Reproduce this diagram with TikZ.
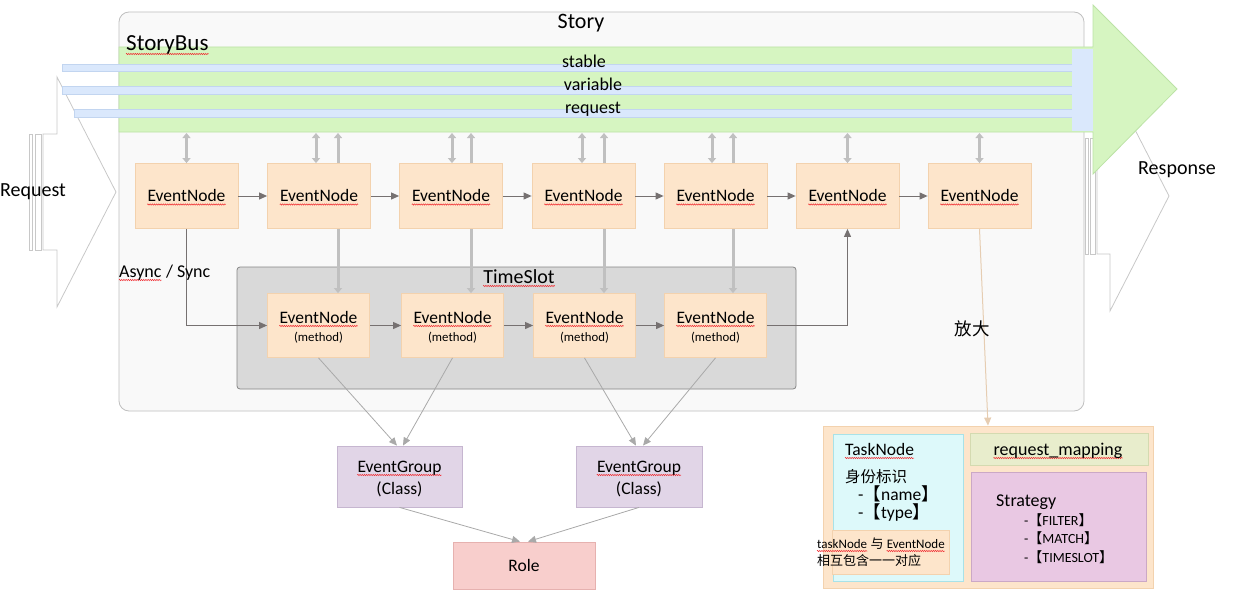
\documentclass[tikz,border=0pt]{standalone}
\usepackage{fontspec}
\setmainfont{Carlito}
\newfontfamily\cjk{Noto Sans CJK SC}
\usetikzlibrary{arrows.meta,decorations.pathmorphing}
\newcommand\fsz[2]{\fontsize{#1}{#2}\selectfont}
\definecolor{evf}{HTML}{FDE5CB}
\definecolor{evb}{HTML}{F3D2AE}
\definecolor{storyf}{HTML}{F9F9F9}
\definecolor{storyb}{HTML}{BFBFBF}
\definecolor{tsf}{HTML}{D9D9D9}
\definecolor{tsb}{HTML}{858585}
\definecolor{grf}{HTML}{D6F5C1}
\definecolor{grb}{HTML}{BCE2A6}
\definecolor{blf}{HTML}{DAE8FC}
\definecolor{blb}{HTML}{C2D5F0}
\definecolor{egf}{HTML}{E1D5E7}
\definecolor{egb}{HTML}{C6B6D0}
\definecolor{rof}{HTML}{F8CECC}
\definecolor{rob}{HTML}{E6B1AF}
\definecolor{tnf}{HTML}{DDF9FA}
\definecolor{tnb}{HTML}{A8E2E8}
\definecolor{rmf}{HTML}{E8EDCC}
\definecolor{rmb}{HTML}{D4DAB0}
\definecolor{stf}{HTML}{E9C8E3}
\definecolor{stb}{HTML}{CBA8C6}
\definecolor{dark}{HTML}{767171}
\definecolor{busln}{HTML}{C0C0C0}
\definecolor{gln}{HTML}{A9A9A9}
\definecolor{zln}{HTML}{E6CDB2}
\definecolor{outln}{HTML}{C8C8C8}
\definecolor{spellred}{HTML}{F0282D}
\begin{document}
\begin{tikzpicture}[x=1pt,y=-1pt,
  outl/.style={draw=outln,fill=white,line width=0.8},
  storybox/.style={draw=storyb,fill=storyf,line width=0.8,rounded corners=10,minimum width=965,minimum height=399,inner sep=0},
  tsbox/.style={draw=tsb,fill=tsf,line width=0.8,rounded corners=3,minimum width=559,minimum height=122,inner sep=0},
  ev/.style={draw=evb,fill=evf,line width=0.8,minimum width=103,minimum height=65,inner sep=0},
  tsn/.style={draw=evb,fill=evf,line width=0.8,minimum width=102,minimum height=64,inner sep=0},
  eg/.style={draw=egb,fill=egf,line width=0.8,minimum width=125,minimum height=61,inner sep=0},
  rolebox/.style={draw=rob,fill=rof,line width=0.8,minimum width=142,minimum height=47,inner sep=0,font=\fsz{17.5}{21}},
  plain/.style={draw=#1,line width=0.8,inner sep=0},
  txt/.style={inner sep=0,font=\fsz{#1}{#1}},
  sq/.style={append after command={\pgfextra{\draw[spellred,line width=0.5,decorate,decoration={zigzag,amplitude=0.65pt,segment length=2.2pt}] ([yshift=-3pt]\tikzlastnode.base west) -- ([yshift=-3pt]\tikzlastnode.base east);}}},
  flow/.style={draw=dark,line width=1,-{Triangle[length=8pt,width=7pt]}},
  dbl/.style={draw=busln,line width=3,{Triangle[length=5pt,width=8pt]}-{Triangle[length=5pt,width=8pt]}},
  gline/.style={draw=gln,line width=0.8,-{Triangle[length=8pt,width=7pt]}},
  zline/.style={draw=zln,line width=1,-{Triangle[length=8pt,width=7pt]}},
]
\useasboundingbox (0,0) rectangle (1237,594);
% response striped arrow (behind)
\draw[outl] (1097,138) -- (1110,138) -- (1110,81) -- (1169,196) -- (1110,311) -- (1110,254) -- (1097,254) -- cycle;
\draw[outl] (1085,138) rectangle (1088,254);
\draw[outl] (1090,138) rectangle (1095,254);
% request striped arrow
\draw[outl] (43,134) -- (57,134) -- (57,77) -- (116,192) -- (57,307) -- (57,250) -- (43,250) -- cycle;
\draw[outl] (29,134) rectangle (32,250);
\draw[outl] (35,134) rectangle (41,250);
% story
\node[storybox] (story) at (601.5,211.5) {};
\node[txt=22,anchor=base] (storyt) at (581,29) {Story};
% bus
\draw[draw=grb,fill=grf,line width=0.8] (119,47) -- (1093,47) -- (1093,5) -- (1177,89) -- (1093,174) -- (1093,132) -- (119,132) -- cycle;
\draw[draw=blb,fill=blf,line width=0.6] (62,64) rectangle (1072,71);
\draw[draw=blb,fill=blf,line width=0.6] (62,86) rectangle (1072,94);
\draw[draw=blb,fill=blf,line width=0.6] (74,109) rectangle (1072,117);
\fill[blf] (1072,49) rectangle (1093,131);
\node[txt=23,sq,anchor=base west] (busname) at (126,51) {StoryBus};
\node[txt=18,anchor=base] (lstable) at (584,67) {stable};
\node[txt=18,anchor=base] (lvar) at (593,91) {variable};
\node[txt=18,anchor=base] (lreq) at (593,113) {request};
\node[txt=20,anchor=base west] (reqlab) at (0,196) {Request};
\node[txt=20,anchor=base west] (resplab) at (1138,174) {Response};
\coordinate (busb) at (0,133);
% timeslot
\node[tsbox] (ts) at (516.5,328) {};
\node[txt=20,sq,anchor=base] (tstitle) at (519,283) {TimeSlot};
% row 1 nodes
\node[ev] (e1) at (186.5,196) {};
\node[ev] (e6) at (847.5,196) {};
\node[ev] (e7) at (979.5,196) {};
% timeslot nodes
\node[tsn] (t1) at (318.5,325.5) {};
\node[tsn] (t2) at (452.5,325.5) {};
\node[tsn] (t3) at (584.5,325.5) {};
\node[tsn] (t4) at (715.5,325.5) {};
% long bus-to-timeslot lines (behind row-1 nodes)
\coordinate (c2) at (338,0);
\coordinate (c3) at (471,0);
\coordinate (c4) at (604,0);
\coordinate (c5) at (733,0);
\draw[dbl] (c2 |- busb) -- (c2 |- t1.north);
\draw[dbl] (c3 |- busb) -- (c3 |- t2.north);
\draw[dbl] (c4 |- busb) -- (c4 |- t3.north);
\draw[dbl] (c5 |- busb) -- (c5 |- t4.north);
\node[ev] (e2) at (319,196) {};
\node[ev] (e3) at (451,196) {};
\node[ev] (e4) at (583.5,196) {};
\node[ev] (e5) at (715.5,196) {};
% node texts
\foreach \n in {e1,e2,e3,e4,e5,e6,e7}{
  \node[txt=17.5,sq,anchor=base] (\n l) at ([yshift=-5.5pt]\n.center) {EventNode};
}
\foreach \n in {t1,t2,t3,t4}{
  \node[txt=17.5,sq,anchor=base] (\n l) at ([yshift=2.5pt]\n.center) {EventNode};
  \node[txt=12.8,anchor=base] (\n m) at ([yshift=-15.5pt]\n.center) {(method)};
}
% short bus connections
\draw[dbl] (e1.north) -- (e1.north |- busb);
\draw[dbl] ([xshift=-3]e2.north) -- ([xshift=-3]e2.north |- busb);
\draw[dbl] ([xshift=1]e3.north) -- ([xshift=1]e3.north |- busb);
\draw[dbl] ([xshift=-1.5]e4.north) -- ([xshift=-1.5]e4.north |- busb);
\draw[dbl] ([xshift=-3.5]e5.north) -- ([xshift=-3.5]e5.north |- busb);
\draw[dbl] (e6.north) -- (e6.north |- busb);
\draw[dbl] (e7.north) -- (e7.north |- busb);
% flows
\draw[flow] (e1.east) -- (e2.west);
\draw[flow] (e2.east) -- (e3.west);
\draw[flow] (e3.east) -- (e4.west);
\draw[flow] (e4.east) -- (e5.west);
\draw[flow] (e5.east) -- (e6.west);
\draw[flow] (e6.east) -- (e7.west);
\draw[flow] (e1.south) |- (t1.west);
\draw[flow] (t1.east) -- (t2.west);
\draw[flow] (t2.east) -- (t3.west);
\draw[flow] (t3.east) -- (t4.west);
\draw[flow] (t4.east) -| (e6.south);
\node[txt=18,sq,anchor=base west] (async) at (119,277) {Async};
\node[txt=18,anchor=base west] (sync) at (async.base east) {\ / Sync};
% groups
\node[eg] (g1) at (399.5,476.5) {};
\node[eg,minimum width=126] (g2) at (639,476.5) {};
\foreach \n in {g1,g2}{
  \node[txt=17.5,sq,anchor=base] (\n l) at ([yshift=4.5pt]\n.center) {EventGroup};
  \node[txt=17.5,anchor=base] (\n c) at ([yshift=-17.5pt]\n.center) {(Class)};
}
\node[rolebox] (role) at (524,565.5) {Role};
\draw[gline] (t1.south) -- ([xshift=-2.5]g1.north);
\draw[gline] (t2.south) -- ([xshift=3.5]g1.north);
\draw[gline] (t3.south) -- ([xshift=-3]g2.north);
\draw[gline] (t4.south) -- ([xshift=4]g2.north);
\draw[gline] (g1.south) -- ([xshift=-4]role.north);
\draw[gline] (g2.south) -- ([xshift=4]role.north);
% zoom box
\node[plain=evb,fill=evf,minimum width=330,minimum height=162] (zb) at (988,507) {};
\draw[zline] (e7.south) -- (zb.north);
\node[inner sep=0,font=\cjk\fsz{17.5}{18}] (fangda) at (972,329) {放大};
\node[plain=tnb,fill=tnf,minimum width=130,minimum height=147] (tn) at (898,507.5) {};
\node[plain=evb,fill=evf,minimum width=117,minimum height=44] (tnin) at (890.5,552) {};
\node[plain=rmb,fill=rmf,minimum width=178,minimum height=32] (rm) at (1059,449) {};
\node[plain=stb,fill=stf,minimum width=175,minimum height=109] (st) at (1058.5,526.5) {};
\node[txt=17.5,sq,anchor=base west] (tnt) at (845,455) {TaskNode};
\node[txt=15.5,anchor=base west,font=\cjk\fsz{15.5}{16}] (tnid) at (845,482) {身份标识};
\node[txt=17.5,anchor=base west] (tnname) at (858,500) {-{\cjk 【}name{\cjk 】}};
\node[txt=17.5,anchor=base west] (tntype) at (858,518) {-{\cjk 【}type{\cjk 】}};
\node[txt=13,sq,anchor=base west] (tnl1a) at (817,548) {taskNode};
\node[txt=13,anchor=base west] (tnl1b) at (tnl1a.base east) {\ {\cjk 与}\ \ };
\node[txt=13,sq,anchor=base west] (tnl1c) at (tnl1b.base east) {EventNode};
\node[txt=13,anchor=base west,font=\cjk\fsz{13}{14}] (tnl2) at (817,565) {相互包含一一对应};
\node[txt=18,sq,anchor=base] (rmt) at (1058,455) {request\_mapping};
\node[txt=18,anchor=base west] (stt) at (996,506) {Strategy};
\node[txt=14,anchor=base west] (st1) at (1024,525) {-{\cjk 【}FILTER{\cjk 】}};
\node[txt=14,anchor=base west] (st2) at (1024,543) {-{\cjk 【}MATCH{\cjk 】}};
\node[txt=14,anchor=base west] (st3) at (1024,562) {-{\cjk 【}TIMESLOT{\cjk 】}};
\end{tikzpicture}
\end{document}
